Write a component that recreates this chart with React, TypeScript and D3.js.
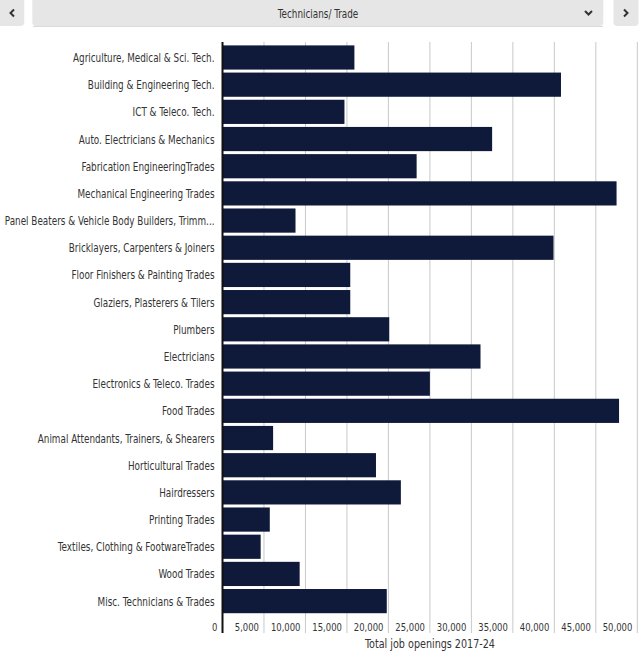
import React from "react";
import * as d3 from "d3";

const categories: string[] = [
  "Agriculture, Medical & Sci. Tech.",
  "Building & Engineering Tech.",
  "ICT & Teleco. Tech.",
  "Auto. Electricians & Mechanics",
  "Fabrication EngineeringTrades",
  "Mechanical Engineering Trades",
  "Panel Beaters & Vehicle Body Builders, Trimm...",
  "Bricklayers, Carpenters & Joiners",
  "Floor Finishers & Painting Trades",
  "Glaziers, Plasterers & Tilers",
  "Plumbers",
  "Electricians",
  "Electronics & Teleco. Trades",
  "Food Trades",
  "Animal Attendants, Trainers, & Shearers",
  "Horticultural Trades",
  "Hairdressers",
  "Printing Trades",
  "Textiles, Clothing & FootwareTrades",
  "Wood Trades",
  "Misc. Technicians & Trades",
];

const openings: number[] = [
  15900, 40800, 14700, 32500, 23400, 47500, 8800, 39900, 15400, 15400, 20100,
  31100, 25000, 47800, 6100, 18500, 21500, 5700, 4600, 9300, 19800,
];

const xTicks: number[] = [0, 5000, 10000, 15000, 20000, 25000, 30000, 35000, 40000, 45000, 50000];
const axisTitle = "Total job openings 2017-24";
const selectorLabel = "Technicians/ Trade";

const FONT = "'DejaVu Sans Condensed', 'DejaVu Sans', sans-serif";
const SX = 0.855;

type TProps = {
  x: number;
  y: number;
  size: number;
  anchor?: "start" | "middle" | "end";
  children: React.ReactNode;
};

function T({ x, y, size, anchor = "start", children }: TProps) {
  return (
    <text
      transform={`translate(${x},${y}) scale(${SX},1)`}
      textAnchor={anchor}
      fontSize={size}
      fill="#333"
    >
      {children}
    </text>
  );
}

export default function App() {
  const width = 640;
  const height = 654;
  const x = d3.scaleLinear().domain([0, 50000]).range([222.5, 637.3]);
  const y = d3
    .scaleBand<string>()
    .domain(categories)
    .range([43.9, 614.7])
    .paddingInner(0.11)
    .paddingOuter(0.055);
  const fmt = d3.format(",");
  const gridTop = 42;
  const gridBottom = 633;

  return (
    <svg
      width={width}
      height={height}
      style={{ position: "absolute", left: 0, top: 0, background: "#fff" }}
      fontFamily={FONT}
    >
      {/* selector bar */}
      <g>
        <rect x={-6} y={-6} width={30.3} height={32} rx={4} fill="#e6e6e6" />
        <path d="M14,9.5 L10.5,13 L14,16.5" fill="none" stroke="#333" strokeWidth={2} />
        <rect x={32.3} y={-6} width={571} height={32} rx={4} fill="#e6e6e6" />
        <line x1={33} x2={603} y1={26.5} y2={26.5} stroke="#dadada" />
        <T x={318} y={17.5} size={11.5} anchor="middle">
          {selectorLabel}
        </T>
        <path d="M585,11 L588.5,14.5 L592,11" fill="none" stroke="#333" strokeWidth={2} />
        <rect x={613.5} y={-6} width={25} height={32} rx={4} fill="#e6e6e6" />
        <path d="M624,9.5 L627.5,13 L624,16.5" fill="none" stroke="#333" strokeWidth={2} />
      </g>

      {/* gridlines */}
      {xTicks.slice(1).map((t) => (
        <line
          key={"g" + t}
          x1={x(t)}
          x2={x(t)}
          y1={gridTop}
          y2={gridBottom}
          stroke="#c9c9c9"
          strokeWidth={1}
        />
      ))}

      {/* bars */}
      {categories.map((c, i) => (
        <rect
          key={c}
          x={x(0)}
          y={y(c)}
          width={x(openings[i]) - x(0)}
          height={y.bandwidth()}
          fill="#0f1939"
        />
      ))}

      {/* category labels */}
      {categories.map((c) => (
        <T key={"l" + c} x={214.5} y={(y(c) as number) + y.bandwidth() / 2 + 4.5} size={11.5} anchor="end">
          {c}
        </T>
      ))}

      {/* axis line */}
      <line x1={x(0)} x2={x(0)} y1={gridTop} y2={gridBottom} stroke="#111" strokeWidth={2} />

      {/* tick labels */}
      {xTicks.map((t) => (
        <T key={"t" + t} x={x(t) - 5} y={630.5} size={11} anchor="end">
          {fmt(t)}
        </T>
      ))}

      <T x={430} y={648.3} size={12.5} anchor="middle">
        {axisTitle}
      </T>
    </svg>
  );
}
